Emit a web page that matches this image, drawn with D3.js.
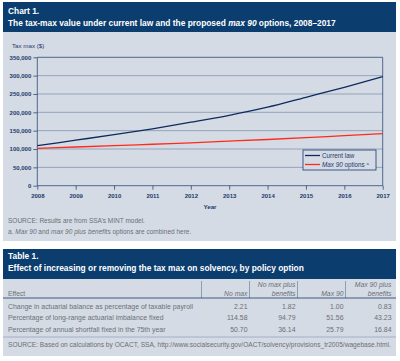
<!DOCTYPE html>
<html>
<head>
<meta charset="utf-8">
<script src="https://cdn.jsdelivr.net/npm/d3@7"></script>
<style>
body{margin:0;background:#fff;}
svg{display:block;font-family:"Liberation Sans",Arial,sans-serif;}
.axis text{fill:#1c3a6b;font-size:6px;font-weight:bold;}
.axis path,.axis line{stroke:#2c4a78;stroke-width:0.8;}
</style>
</head>
<body>
<svg id="chart" width="400" height="361"></svg>
<script>
// chart data
var years = [2008, 2009, 2010, 2011, 2012, 2013, 2014, 2015, 2016, 2017];
var currentLaw = [109000, 124000, 139000, 155000, 173000, 192000, 214000, 241000, 268000, 297000];
var max90 = [102000, 105500, 109000, 113000, 117000, 121500, 126000, 131000, 136500, 142000];
var yTicks = [0, 50000, 100000, 150000, 200000, 250000, 300000, 350000];

// table data
var colNames = [["No max"], ["No max plus", "benefits"], ["Max 90"], ["Max 90 plus", "benefits"]];
var rowNames = ["Change in actuarial balance as percentage of taxable payroll",
	"Percentage of long-range actuarial imbalance fixed",
	"Percentage of annual shortfall fixed in the 75th year"];
var rowValues = [["2.21", "1.82", "1.00", "0.83"],
	["114.58", "94.79", "51.56", "43.23"],
	["50.70", "36.14", "25.79", "16.84"]];

var Navy = "#0b3d6f", Panel = "#d5dbe4", Grid = "#8396b0", TextGray = "#6b6f76";
var svg = d3.select("#chart");

// ---- chart 1 box
svg.append("rect").attr("x", 3).attr("y", 2).attr("width", 393).attr("height", 30).attr("fill", Navy);
svg.append("rect").attr("x", 3).attr("y", 32).attr("width", 393).attr("height", 209).attr("fill", Panel);
svg.append("text").attr("x", 8).attr("y", 14).attr("fill", "#fff")
	.attr("font-size", 8.4).attr("font-weight", "bold").text("Chart 1.");
var ttl = svg.append("text").attr("x", 8).attr("y", 26).attr("fill", "#fff")
	.attr("font-size", 8.4).attr("font-weight", "bold");
ttl.append("tspan").text("The tax-max value under current law and the proposed ");
ttl.append("tspan").attr("font-style", "italic").text("max 90");
ttl.append("tspan").text(" options, 2008\u20132017");

svg.append("text").attr("x", 12).attr("y", 47.5).attr("fill", "#1c3a6b")
	.attr("font-size", 6.2).text("Tax max ($)");

var x = d3.scaleLinear().domain([2008, 2017]).range([37.3, 382.7]);
var y = d3.scaleLinear().domain([0, 350000]).range([185.7, 57.3]);

// gridlines
svg.append("g").selectAll("line").data(yTicks.slice(1)).enter().append("line")
	.attr("x1", x(2008)).attr("x2", x(2017))
	.attr("y1", function(d){ return y(d); }).attr("y2", function(d){ return y(d); })
	.attr("stroke", function(d){ return d === 350000 ? "#2c4a78" : Grid; })
	.attr("stroke-width", 0.8);
svg.append("line").attr("x1", x(2017)).attr("x2", x(2017)).attr("y1", y(350000)).attr("y2", y(0))
	.attr("stroke", "#2c4a78").attr("stroke-width", 0.8);

svg.append("g").attr("class", "axis").attr("transform", "translate(" + x(2008) + ",0)")
	.call(d3.axisLeft(y).tickValues(yTicks).tickSize(4).tickPadding(2).tickFormat(d3.format(",")))
	.call(function(g){ g.select(".domain").attr("d", "M0," + y(350000) + "V" + y(0)); });
svg.append("g").attr("class", "axis").attr("transform", "translate(0," + y(0) + ")")
	.call(d3.axisBottom(x).tickValues(years).tickSize(4).tickPadding(4).tickFormat(d3.format("d")))
	.call(function(g){ g.select(".domain").attr("d", "M" + x(2008) + ",0H" + x(2017)); });

svg.append("text").attr("x", 210).attr("y", 209).attr("text-anchor", "middle")
	.attr("fill", "#1c3a6b").attr("font-size", 6.2).attr("font-weight", "bold").text("Year");

var line = d3.line().x(function(d, i){ return x(years[i]); }).y(function(d){ return y(d); })
	.curve(d3.curveMonotoneX);
svg.append("path").datum(max90).attr("d", line).attr("fill", "none")
	.attr("stroke", "#ff2a1c").attr("stroke-width", 1.3);
svg.append("path").datum(currentLaw).attr("d", line).attr("fill", "none")
	.attr("stroke", "#0d2a5e").attr("stroke-width", 1.3);

// legend
var lg = svg.append("g").attr("transform", "translate(303,150)");
lg.append("rect").attr("width", 73).attr("height", 20).attr("fill", Panel)
	.attr("stroke", "#1c3a6b").attr("stroke-width", 0.8);
lg.append("line").attr("x1", 2).attr("x2", 17).attr("y1", 5.5).attr("y2", 5.5)
	.attr("stroke", "#0d2a5e").attr("stroke-width", 1.3);
lg.append("line").attr("x1", 2).attr("x2", 17).attr("y1", 14.5).attr("y2", 14.5)
	.attr("stroke", "#ff2a1c").attr("stroke-width", 1.3);
lg.append("text").attr("x", 19).attr("y", 7.8).attr("font-size", 6.3).attr("fill", "#1c3a6b").text("Current law");
var lt = lg.append("text").attr("x", 19).attr("y", 16.8).attr("font-size", 6.3).attr("fill", "#1c3a6b");
lt.append("tspan").attr("font-style", "italic").text("Max 90");
lt.append("tspan").text(" options ");
lt.append("tspan").attr("font-size", 4.2).attr("dy", -1.8).text("a");

svg.append("text").attr("x", 8).attr("y", 223).attr("fill", TextGray).attr("font-size", 6.5)
	.text("SOURCE: Results are from SSA\u2019s MINT model.");
var fn = svg.append("text").attr("x", 8).attr("y", 234).attr("fill", TextGray).attr("font-size", 6.5)
	.attr("font-style", "italic");
fn.append("tspan").attr("font-style", "normal").text("a. ");
fn.append("tspan").text("Max 90");
fn.append("tspan").attr("font-style", "normal").text(" and ");
fn.append("tspan").text("max 90 plus benefits");
fn.append("tspan").attr("font-style", "normal").text(" options are combined here.");

// ---- table 1
var tTop = 249;
svg.append("rect").attr("x", 3).attr("y", tTop).attr("width", 393).attr("height", 30).attr("fill", Navy);
svg.append("rect").attr("x", 3).attr("y", tTop + 30).attr("width", 393).attr("height", 77).attr("fill", Panel);
svg.append("text").attr("x", 8).attr("y", tTop + 10).attr("fill", "#fff")
	.attr("font-size", 8.4).attr("font-weight", "bold").text("Table 1.");
svg.append("text").attr("x", 8).attr("y", tTop + 22).attr("fill", "#fff")
	.attr("font-size", 8.4).attr("font-weight", "bold")
	.text("Effect of increasing or removing the tax max on solvency, by policy option");

var colX = d3.scaleBand().domain(d3.range(4)).range([201.5, 393.5]);
var hBot = tTop + 49;
colX.domain().forEach(function(i){
	svg.append("line").attr("x1", colX(i)).attr("x2", colX(i)).attr("y1", tTop + 32).attr("y2", hBot)
		.attr("stroke", "#6f82a0").attr("stroke-width", 0.7);
});
svg.append("line").attr("x1", 3).attr("x2", 396).attr("y1", hBot).attr("y2", hBot)
	.attr("stroke", "#1c3a6b").attr("stroke-width", 0.8);
svg.append("text").attr("x", 8).attr("y", hBot - 2.5).attr("fill", TextGray).attr("font-size", 6.8).text("Effect");
colNames.forEach(function(lines, i){
	var t = svg.append("text").attr("x", colX(i) + colX.bandwidth() - 2).attr("text-anchor", "end")
		.attr("fill", TextGray).attr("font-size", 6.8).attr("font-style", "italic");
	lines.forEach(function(s, j){
		t.append("tspan").attr("x", colX(i) + colX.bandwidth() - 2)
			.attr("y", hBot - 2.5 - (lines.length - 1 - j) * 8.5).text(s);
	});
});
var rowY = d3.scalePoint().domain(d3.range(rowNames.length)).range([hBot + 10.5, hBot + 33.5]);
rowNames.forEach(function(name, r){
	svg.append("text").attr("x", 8).attr("y", rowY(r)).attr("fill", TextGray).attr("font-size", 6.9).text(name);
	rowValues[r].forEach(function(v, i){
		svg.append("text").attr("x", colX(i) + colX.bandwidth() - 2).attr("y", rowY(r))
			.attr("text-anchor", "end").attr("fill", TextGray).attr("font-size", 6.9).text(v);
	});
});
svg.append("line").attr("x1", 3).attr("x2", 396).attr("y1", hBot + 39).attr("y2", hBot + 39)
	.attr("stroke", "#8396b0").attr("stroke-width", 0.6);
svg.append("text").attr("x", 8).attr("y", hBot + 49).attr("fill", TextGray).attr("font-size", 6.6)
	.text("SOURCE: Based on calculations by OCACT, SSA, http://www.socialsecurity.gov/OACT/solvency/provisions_tr2005/wagebase.html.");
</script>
</body>
</html>
